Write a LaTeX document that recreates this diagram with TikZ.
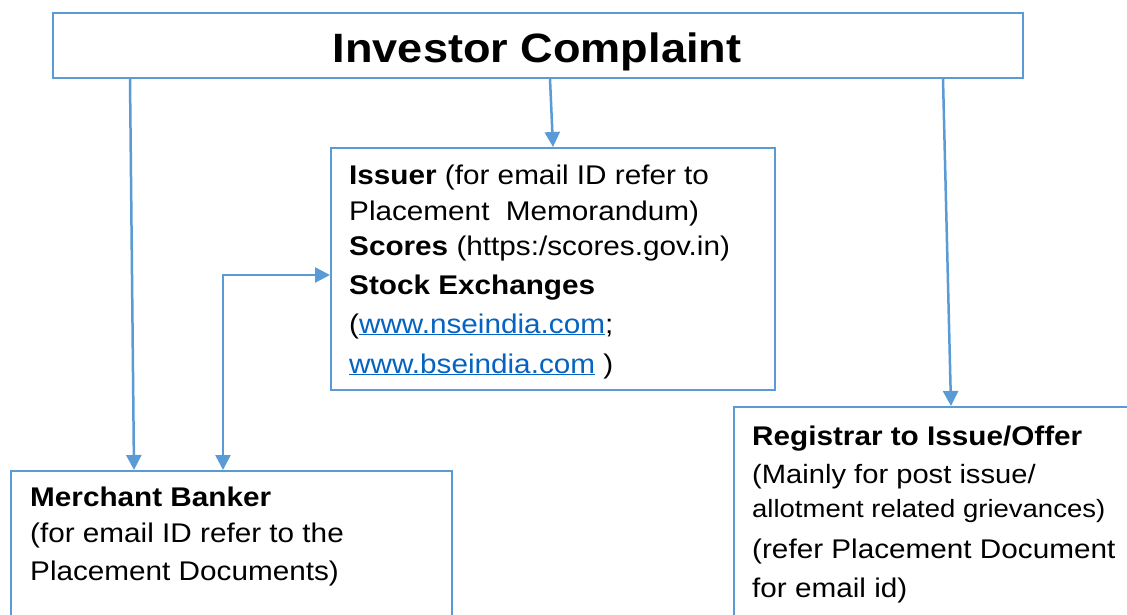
\documentclass[tikz,border=0pt]{standalone}
\usepackage{fontspec}
\setmainfont{Liberation Sans}[FakeStretch=1.1]
\usetikzlibrary{arrows.meta,calc}
\definecolor{lineblue}{HTML}{5B9BD5}
\definecolor{linkblue}{HTML}{0563C1}
\newcommand\weblink[1]{{\color{linkblue}\underline{#1}}}
\tikzset{
  box/.style={draw=lineblue, line width=2pt, rectangle, inner sep=0pt, anchor=north west},
  arr/.style={draw=lineblue, line width=2.5pt, -{Triangle[width=15pt,length=15pt]}},
  darr/.style={draw=lineblue, line width=2.5pt, {Triangle[width=15pt,length=15pt]}-{Triangle[width=15pt,length=15pt]}},
  txt/.style={anchor=base west, inner sep=0pt, font=\fontsize{27}{35}\selectfont},
  ttl/.style={anchor=base, inner sep=0pt, font=\fontsize{41}{49}\selectfont\bfseries},
}
\begin{document}
\begin{tikzpicture}[x=1pt,y=-1pt]
\useasboundingbox (0,0) rectangle (1127,615);
\clip (0,0) rectangle (1127,615);
\fill[white] (0,0) rectangle (1127,615);
% boxes
\node[box, minimum width=970pt, minimum height=65pt] (inv) at (52,12) {};
\node[box, minimum width=444pt, minimum height=242pt] (iss) at (330,147) {};
\node[box, minimum width=441pt, minimum height=200pt] (mb) at (10,470) {};
\node[box, minimum width=450pt, minimum height=250pt] (reg) at (733,406) {};
% title
\node[ttl] (title) at (537,63) {Investor Complaint};
% issuer text
\node[txt] (iss1) at (349,184) {\textbf{Issuer} (for email ID refer to};
\node[txt] (iss2) at (349,220) {Placement\ \ Memorandum)};
\node[txt] (iss3) at (349,255) {\textbf{Scores} (https:/scores.gov.in)};
\node[txt] (iss4) at (349,294) {\textbf{Stock Exchanges}};
\node[txt] (iss5) at (349,333) {(\weblink{www.nseindia.com};};
\node[txt] (iss6) at (349,373) {\weblink{www.bseindia.com} )};
% merchant text
\node[txt] (mb1) at (30,506) {\textbf{Merchant Banker}};
\node[txt] (mb2) at (30,542) {(for email ID refer to the};
\node[txt] (mb3) at (30,580) {Placement Documents)};
% registrar text
\node[txt] (reg1) at (752,445) {\textbf{Registrar to Issue/Offer}};
\node[txt, font=\fontsize{26.5}{35}\selectfont] (reg2) at (752,483) {(Mainly for post issue/};
\node[txt, font=\fontsize{25}{35}\selectfont] (reg3) at (752,517) {allotment related grievances)};
\node[txt] (reg4) at (752,558) {(refer Placement Document};
\node[txt] (reg5) at (752,597) {for email id)};
% connectors
\draw[arr] ($(inv.south west)+(78,0)$) -- ($(mb.north west)+(124,0)$);
\draw[arr] ($(inv.south west)+(498,0)$) -- ($(iss.north west)+(223,0)$);
\draw[arr] ($(inv.south west)+(891,0)$) -- ($(reg.north west)+(218,0)$);
\draw[darr] ($(mb.north west)+(213,0)$) |- ($(iss.north west)+(0,128)$);
\end{tikzpicture}
\end{document}
